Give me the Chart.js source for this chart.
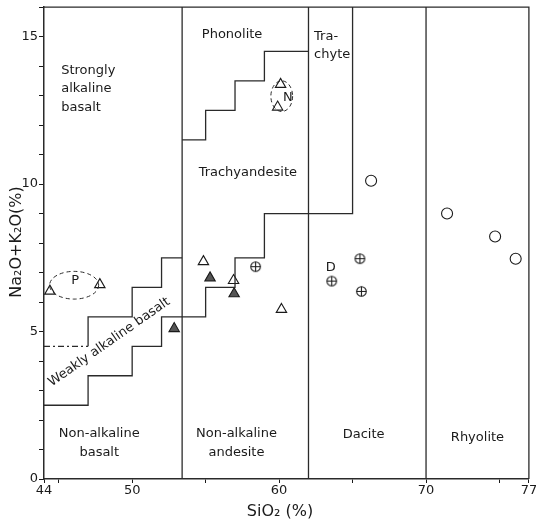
<!DOCTYPE html>
<html lang="en">
<head>
    <meta charset="UTF-8">
    <title>TAS diagram</title>
    <script src="https://cdn.jsdelivr.net/npm/chart.js@4.4.0/dist/chart.umd.min.js"></script>
    <style>
        body { margin: 0; background: #fff; }
        #wrap { width: 536px; height: 524px; }
    </style>
</head>
<body>
<div id="wrap"><canvas id="tas" width="536" height="524"></canvas></div>
<script>
// axis ticks
const xTickValues = [44, 45, 50, 55, 60, 65, 70, 75, 77];
const xTickLabels = [44, 50, 60, 70, 77];
const yTickLabels = [0, 5, 10, 15];

// field boundaries (SiO2, Na2O+K2O)
const fullVerticals = [53.4, 62, 70];
const phonoliteStep = [[53.4, 11.5], [55, 11.5], [55, 12.5], [57, 12.5], [57, 13.5], [59, 13.5], [59, 14.5], [62, 14.5]];
const alkalineStep = [[47, 4.5], [47, 5.5], [50, 5.5], [50, 6.5], [52, 6.5], [52, 7.5], [53.4, 7.5]];
const alkalineDashed = [[44, 4.5], [47, 4.5]];
const subalkalineStep = [[44, 2.5], [47, 2.5], [47, 3.5], [50, 3.5], [50, 4.5], [52, 4.5], [52, 5.5], [55, 5.5],
    [55, 6.5], [57, 6.5], [57, 7.5], [59, 7.5], [59, 9], [65, 9], [65, 16]];

// samples
const openTriangles = [[44.4, 6.37], [47.8, 6.59], [54.85, 7.37], [56.9, 6.73], [60.16, 5.75], [60.1, 13.38], [59.9, 12.61]];
const filledTriangles = [[55.3, 6.82], [56.94, 6.28], [52.86, 5.1]];
const crossCircles = [[58.4, 7.2], [63.58, 6.71], [65.6, 6.36], [65.5, 7.47]];
const openCircles = [[66.26, 10.11], [71.43, 9.0], [74.7, 8.22], [76.1, 7.47]];

const ink = '#1a1a1a';
const pts = arr => arr.map(p => ({ x: p[0], y: p[1] }));

function boundary(arr, dashed) {
    return {
        data: pts(arr), showLine: true, pointRadius: 0, borderColor: '#2a2a2a',
        borderWidth: 1.3, borderDash: dashed ? [6, 3, 2, 3] : [], fill: false
    };
}

// circle-with-plus marker
const plusCircle = document.createElement('canvas');
plusCircle.width = 13; plusCircle.height = 13;
(function () {
    const c = plusCircle.getContext('2d');
    c.strokeStyle = ink; c.lineWidth = 1.1;
    c.beginPath(); c.arc(6.5, 6.5, 4.8, 0, Math.PI * 2); c.stroke();
    c.beginPath(); c.moveTo(1.7, 6.5); c.lineTo(11.3, 6.5); c.moveTo(6.5, 1.7); c.lineTo(6.5, 11.3); c.stroke();
})();

const datasets = [];
fullVerticals.forEach(v => datasets.push(boundary([[v, 0], [v, 16]])));
datasets.push(boundary(phonoliteStep));
datasets.push(boundary(alkalineStep));
datasets.push(boundary(alkalineDashed, true));
datasets.push(boundary(subalkalineStep));
datasets.push({ data: pts(openTriangles), pointStyle: 'triangle', pointRadius: 6, backgroundColor: '#fff', borderColor: ink, borderWidth: 1.1 });
datasets.push({ data: pts(filledTriangles), pointStyle: 'triangle', pointRadius: 6, backgroundColor: '#555', borderColor: ink, borderWidth: 1.1 });
datasets.push({ data: pts(crossCircles), pointStyle: plusCircle });
datasets.push({ data: pts(openCircles), pointStyle: 'circle', pointRadius: 5.5, backgroundColor: '#fff', borderColor: ink, borderWidth: 1.1 });

// labels, outline, ellipses, axis titles
const decorations = {
    id: 'decorations',
    afterDatasetsDraw(chart) {
        const { ctx, chartArea: a, scales: { x, y } } = chart;
        ctx.save();
        ctx.strokeStyle = '#2a2a2a';
        ctx.lineWidth = 1.3;
        ctx.beginPath();
        ctx.moveTo(a.left, a.top); ctx.lineTo(a.right, a.top); ctx.lineTo(a.right, a.bottom);
        ctx.stroke();

        // dashed group outlines
        ctx.setLineDash([4, 3]);
        ctx.lineWidth = 1;
        [[46.05, 6.57, 1.67, 0.47], [60.18, 12.98, 0.74, 0.52]].forEach(e => {
            const cx = x.getPixelForValue(e[0]), cy = y.getPixelForValue(e[1]);
            const rx = Math.abs(x.getPixelForValue(e[0] + e[2]) - cx);
            const ry = Math.abs(y.getPixelForValue(e[1] + e[3]) - cy);
            ctx.beginPath(); ctx.ellipse(cx, cy, rx, ry, 0, 0, Math.PI * 2); ctx.stroke();
        });
        ctx.setLineDash([]);

        ctx.fillStyle = ink;
        ctx.font = '13px "DejaVu Sans"';
        ctx.textBaseline = 'middle';
        const put = (t, vx, vy, align) => {
            ctx.textAlign = align || 'center';
            ctx.fillText(t, x.getPixelForValue(vx), y.getPixelForValue(vy));
        };
        put('Strongly', 45.17, 13.83, 'left');
        put('alkaline', 45.17, 13.22, 'left');
        put('basalt', 45.17, 12.58, 'left');
        put('Phonolite', 56.8, 15.08);
        put('Tra-', 62.38, 15.01, 'left');
        put('chyte', 62.38, 14.4, 'left');
        put('Trachyandesite', 57.87, 10.38);
        put('N', 60.6, 12.93);
        put('P', 46.12, 6.73);
        put('D', 63.52, 7.15);
        put('Non-alkaline', 47.76, 1.55);
        put('basalt', 47.76, 0.9);
        put('Non-alkaline', 57.1, 1.55);
        put('andesite', 57.1, 0.9);
        put('Dacite', 65.75, 1.5);
        put('Rhyolite', 73.5, 1.4);

        ctx.save();
        ctx.translate(x.getPixelForValue(48.44), y.getPixelForValue(4.64));
        ctx.rotate(-35 * Math.PI / 180);
        ctx.textAlign = 'center';
        ctx.fillText('Weakly alkaline basalt', 0, 0);
        ctx.restore();

        ctx.font = '16px "DejaVu Sans"';
        ctx.textAlign = 'center';
        ctx.fillText('SiO\u2082 (%)', 280, 512);
        ctx.save();
        ctx.translate(17, 242);
        ctx.rotate(-Math.PI / 2);
        ctx.fillText('Na\u2082O+K\u2082O(%)', 0, 0);
        ctx.restore();
        ctx.restore();
    }
};

new Chart(document.getElementById('tas'), {
    type: 'scatter',
    data: { datasets },
    options: {
        responsive: false,
        animation: false,
        layout: { padding: { top: 6, right: 6, left: 0, bottom: 0 } },
        plugins: { legend: { display: false }, tooltip: { enabled: false } },
        scales: {
            x: {
                type: 'linear', min: 44, max: 77,
                afterBuildTicks: s => { s.ticks = xTickValues.map(v => ({ value: v })); },
                afterFit: s => { s.height = 45; s.paddingLeft = 0; s.paddingRight = 0; },
                ticks: {
                    autoSkip: false, maxRotation: 0, padding: 0, color: ink,
                    font: { family: 'DejaVu Sans', size: 13 },
                    callback: v => xTickLabels.includes(v) ? String(v) : ''
                },
                grid: { drawOnChartArea: false, tickLength: 4, color: ink },
                border: { color: '#2a2a2a', width: 1.5 }
            },
            y: {
                type: 'linear', min: 0, max: 16,
                afterBuildTicks: s => { s.ticks = Array.from({ length: 17 }, (_, i) => ({ value: i })); },
                afterFit: s => { s.width = 44; s.paddingTop = 0; s.paddingBottom = 0; },
                ticks: {
                    autoSkip: false, padding: 1, color: ink,
                    font: { family: 'DejaVu Sans', size: 13 },
                    callback: v => yTickLabels.includes(v) ? String(v) : ''
                },
                grid: { drawOnChartArea: false, tickLength: 5, color: ink },
                border: { color: '#2a2a2a', width: 1.5 }
            }
        }
    },
    plugins: [decorations]
});
</script>
</body>
</html>
